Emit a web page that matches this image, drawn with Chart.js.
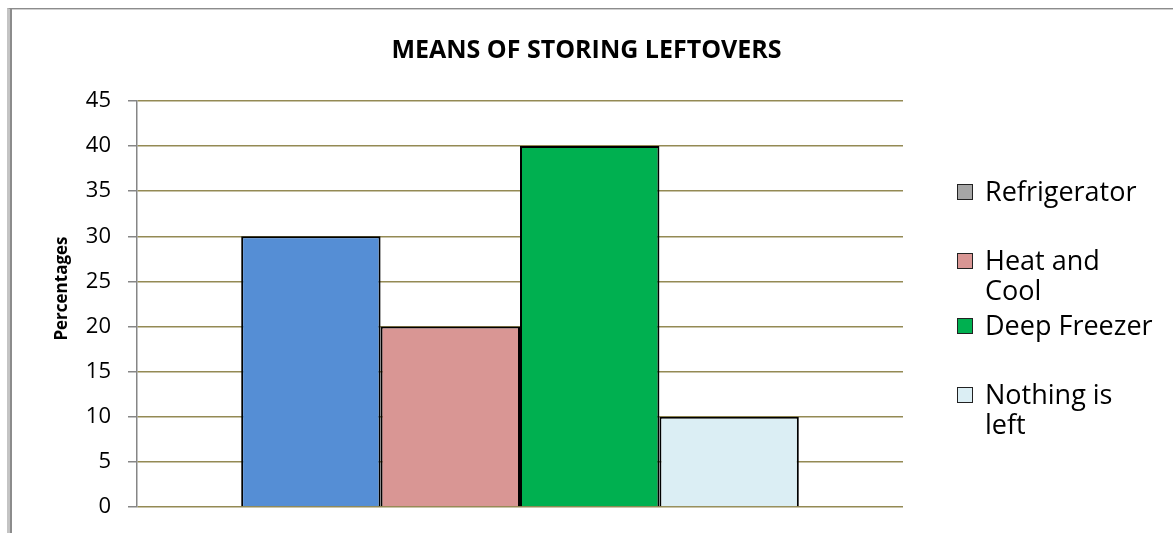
<!DOCTYPE html>
<html lang="en">
<head>
  <meta charset="UTF-8" />
  <title>Means of Storing Leftovers</title>
  <style>
    body { margin: 0; background: #fff; }
    .wrap { position: relative; width: 1173px; height: 533px; overflow: hidden; }
    /* Excel-like chart frame, only the top and left edges show */
    .frame {
      position: absolute; left: 7px; top: 8px; width: 1200px; height: 600px;
      border-top: 1px solid #8c8c8c; border-left: 3px solid #c4c4c4;
      box-shadow: inset 2px 0 0 #8c8c8c, inset 0 1px 0 #cfcfcf;
    }
    canvas { position: absolute; left: 0; top: 0; }
  </style>
</head>
<body>
  <div class="wrap">
    <div class="frame"></div>
    <canvas id="leftoverChart" width="1173" height="533"></canvas>
  </div>

  <script src="https://cdn.jsdelivr.net/npm/chart.js"></script>
  <script>
    // Data
    const categories = ['Refrigerator', 'Heat and Cool', 'Deep Freezer', 'Nothing is left'];
    const percentages = [30, 20, 40, 10];
    const barColors = ['#558ED5', '#D99694', '#00B050', '#DBEEF4'];
    // the legend swatch for Refrigerator is grey in the original
    const legendColors = ['#A6A6A6', '#D99694', '#00B050', '#DBEEF4'];
    const legendLines = [['Refrigerator'], ['Heat and', 'Cool'], ['Deep Freezer'], ['Nothing is', 'left']];
    const yMin = 0, yMax = 45, yStep = 5;

    const FONT = '"Open Sans", Lato, sans-serif';

    // Legend drawn by hand so labels can wrap like the Excel one
    const sideLegend = {
      id: 'sideLegend',
      afterDraw(chart) {
        const c = chart.ctx;
        const rowY = [192, 261, 326, 395];
        c.save();
        c.font = '27px ' + FONT;
        c.textBaseline = 'middle';
        legendLines.forEach((lines, i) => {
          const y = rowY[i];
          c.fillStyle = legendColors[i];
          c.fillRect(957, y - 8, 16, 16);
          c.strokeStyle = '#222';
          c.lineWidth = 1;
          c.strokeRect(957.5, y - 7.5, 15, 15);
          c.fillStyle = '#000';
          lines.forEach((t, k) => c.fillText(t, 985, y + 1 + k * 30));
        });
        c.restore();
      }
    };

    const ctx = document.getElementById('leftoverChart').getContext('2d');
    new Chart(ctx, {
      type: 'bar',
      data: {
        labels: [''],
        datasets: categories.map((name, i) => ({
          label: name,
          data: [percentages[i]],
          backgroundColor: barColors[i],
          borderColor: '#000',
          borderWidth: 2,
          categoryPercentage: 0.728,
          barPercentage: 1
        }))
      },
      options: {
        responsive: false,
        animation: false,
        layout: { padding: { left: 0, right: 0, top: 0, bottom: 26 } },
        plugins: {
          legend: { display: false },
          tooltip: { enabled: false },
          title: {
            display: true,
            text: 'MEANS OF STORING LEFTOVERS',
            color: '#000',
            font: { family: FONT, size: 25, weight: 'bold', lineHeight: 1.2 },
            padding: { top: 36, bottom: 35 }
          }
        },
        scales: {
          x: { display: false },
          y: {
            min: yMin,
            max: yMax,
            ticks: { stepSize: yStep, color: '#000', font: { family: FONT, size: 22 }, padding: 17 },
            grid: { color: '#948A54', lineWidth: 1.5, tickColor: '#868686', tickLength: 9 },
            border: { color: '#868686', width: 1.5 },
            title: {
              display: true,
              text: '\u00A0\u00A0\u00A0\u00A0\u00A0\u00A0\u00A0Percentages',
              color: '#000',
              font: { family: FONT, size: 17, weight: 'bold', lineHeight: 1.2 },
              padding: { top: 52, bottom: 0 }
            },
            afterFit(scale) {
              scale.width = 137;
              // keep label overflow from shrinking the plot
              scale.paddingTop = 0;
              scale.paddingBottom = 0;
            }
          },
          // empty right axis only reserves room for the legend
          legendSpace: {
            type: 'linear',
            position: 'right',
            display: true,
            grid: { display: false },
            border: { display: false },
            ticks: { display: false },
            afterFit(scale) { scale.width = 270; }
          }
        }
      },
      plugins: [sideLegend]
    });
  </script>
</body>
</html>
